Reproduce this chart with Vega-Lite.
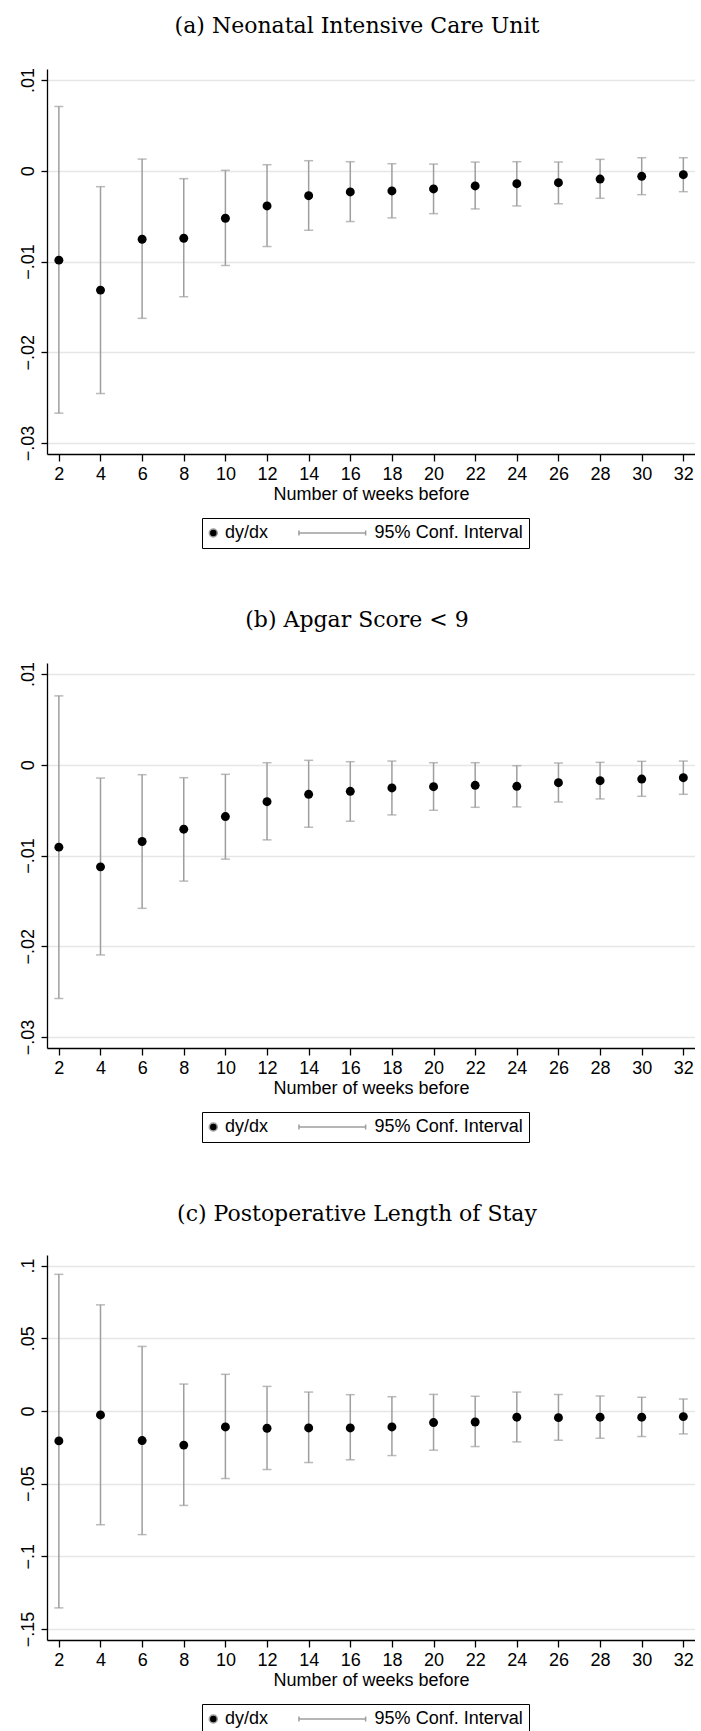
{
  "$schema": "https://vega.github.io/schema/vega-lite/v6.json",
  "background": "white",
  "padding": {"left": 18, "top": 15, "right": 0, "bottom": 0},
  "datasets": {
    "a": [
      {"week": 2, "est": -0.00985, "lo": -0.0267, "hi": 0.00707},
      {"week": 4, "est": -0.01315, "lo": -0.02454, "hi": -0.00176},
      {"week": 6, "est": -0.00755, "lo": -0.01626, "hi": 0.00128},
      {"week": 8, "est": -0.00744, "lo": -0.01388, "hi": -0.00088},
      {"week": 10, "est": -0.00524, "lo": -0.01044, "hi": 0.00004},
      {"week": 12, "est": -0.00388, "lo": -0.00835, "hi": 0.00066},
      {"week": 14, "est": -0.00275, "lo": -0.00656, "hi": 0.0011},
      {"week": 16, "est": -0.00234, "lo": -0.0056, "hi": 0.00099},
      {"week": 18, "est": -0.00223, "lo": -0.0052, "hi": 0.00077},
      {"week": 20, "est": -0.00201, "lo": -0.00473, "hi": 0.00073},
      {"week": 22, "est": -0.00168, "lo": -0.00421, "hi": 0.00095},
      {"week": 24, "est": -0.00143, "lo": -0.00388, "hi": 0.00099},
      {"week": 26, "est": -0.00132, "lo": -0.00363, "hi": 0.00095},
      {"week": 28, "est": -0.00092, "lo": -0.00304, "hi": 0.00125},
      {"week": 30, "est": -0.00062, "lo": -0.00264, "hi": 0.00143},
      {"week": 32, "est": -0.00044, "lo": -0.00231, "hi": 0.00143}
    ],
    "b": [
      {"week": 2, "est": -0.00908, "lo": -0.02575, "hi": 0.00758},
      {"week": 4, "est": -0.01125, "lo": -0.02095, "hi": -0.00147},
      {"week": 6, "est": -0.00846, "lo": -0.01582, "hi": -0.0011},
      {"week": 8, "est": -0.0071, "lo": -0.01282, "hi": -0.00143},
      {"week": 10, "est": -0.00571, "lo": -0.0104, "hi": -0.00106},
      {"week": 12, "est": -0.00407, "lo": -0.00828, "hi": 0.00022},
      {"week": 14, "est": -0.00326, "lo": -0.00689, "hi": 0.00048},
      {"week": 16, "est": -0.00293, "lo": -0.00623, "hi": 0.00033},
      {"week": 18, "est": -0.00256, "lo": -0.00553, "hi": 0.0004},
      {"week": 20, "est": -0.00242, "lo": -0.00502, "hi": 0.00022},
      {"week": 22, "est": -0.00227, "lo": -0.00469, "hi": 0.00022},
      {"week": 24, "est": -0.00238, "lo": -0.00465, "hi": -0.00011},
      {"week": 26, "est": -0.00198, "lo": -0.0041, "hi": 0.00018},
      {"week": 28, "est": -0.00176, "lo": -0.00377, "hi": 0.00026},
      {"week": 30, "est": -0.00158, "lo": -0.00348, "hi": 0.00037},
      {"week": 32, "est": -0.00143, "lo": -0.00326, "hi": 0.0004}
    ],
    "c": [
      {"week": 2, "est": -0.0206, "lo": -0.1355, "hi": 0.094},
      {"week": 4, "est": -0.00275, "lo": -0.0783, "hi": 0.073},
      {"week": 6, "est": -0.0204, "lo": -0.0851, "hi": 0.0444},
      {"week": 8, "est": -0.0235, "lo": -0.065, "hi": 0.0185},
      {"week": 10, "est": -0.011, "lo": -0.0465, "hi": 0.0252},
      {"week": 12, "est": -0.0119, "lo": -0.0403, "hi": 0.0169},
      {"week": 14, "est": -0.0117, "lo": -0.0355, "hi": 0.013},
      {"week": 16, "est": -0.0117, "lo": -0.0336, "hi": 0.0112},
      {"week": 18, "est": -0.011, "lo": -0.0307, "hi": 0.0098},
      {"week": 20, "est": -0.008, "lo": -0.027, "hi": 0.0114},
      {"week": 22, "est": -0.0076, "lo": -0.0245, "hi": 0.0101},
      {"week": 24, "est": -0.0043, "lo": -0.0213, "hi": 0.013},
      {"week": 26, "est": -0.0046, "lo": -0.0201, "hi": 0.0114},
      {"week": 28, "est": -0.0043, "lo": -0.0188, "hi": 0.0103},
      {"week": 30, "est": -0.0043, "lo": -0.0176, "hi": 0.0094},
      {"week": 32, "est": -0.0039, "lo": -0.0158, "hi": 0.0082}
    ]
  },
  "config": {
    "view": {"stroke": null},
    "font": "Liberation Sans",
    "axis": {
      "labelFont": "Liberation Sans", "labelFontSize": 18, "labelColor": "black",
      "titleFont": "Liberation Sans", "titleFontSize": 18, "titleFontWeight": "normal", "titleColor": "black",
      "domainColor": "black", "domainWidth": 1.3, "tickColor": "black", "tickWidth": 1.3
    },
    "axisX": {"grid": false, "tickSize": 7, "labelPadding": 4, "titlePadding": 2, "labelFlush": false, "labelOverlap": false},
    "axisY": {"grid": true, "gridColor": "#e6e6e6", "gridWidth": 1.6, "tickSize": 6, "labelAngle": -90, "labelAlign": "center", "labelBaseline": "bottom", "labelPadding": 4, "minExtent": 28, "maxExtent": 28, "labelFlush": false, "labelOverlap": false},
    "title": {"font": "DejaVu Serif", "fontSize": 22, "fontWeight": "normal", "color": "black", "anchor": "middle", "dx": -14, "offset": 29},
    "legend": {
      "orient": "none", "legendX": 155, "legendY": 449, "direction": "horizontal", "title": null,
      "strokeColor": "black", "fillColor": "white", "padding": 6,
      "labelFont": "Liberation Sans", "labelFontSize": 18, "labelColor": "black",
      "labelOffset": 2.7, "symbolOffset": -3.7, "columnPadding": 26.6,
      "symbolSize": 256, "symbolStrokeWidth": 1.5, "symbolOpacity": 1
    }
  },
  "spacing": 60,
  "resolve": {"scale": {"x": "independent", "y": "independent", "shape": "independent"}, "legend": {"shape": "independent"}},
  "vconcat": [
    {
      "title": "(a) Neonatal Intensive Care Unit",
      "width": 648, "height": 385,
      "data": {"name": "a"},
      "encoding": {
        "x": {"field": "week", "type": "quantitative", "title": "Number of weeks before",
              "scale": {"domain": [1.43, 32.56], "nice": false, "zero": false},
              "axis": {"values": [2,4,6,8,10,12,14,16,18,20,22,24,26,28,30,32]}}
      },
      "layer": [
        {"mark": {"type": "rule", "color": "#9e9e9e", "strokeWidth": 1.5},
         "encoding": {
           "y": {"field": "lo", "type": "quantitative", "title": null,
                 "scale": {"domain": [-0.0312, 0.0112], "nice": false, "zero": false},
                 "axis": {"values": [-0.03,-0.02,-0.01,0,0.01], "labelExpr": "replace(replace(format(datum.value, '.2~f'), '0.', '.'), '-', '\u2212')"}},
           "y2": {"field": "hi"}}},
        {"mark": {"type": "tick", "orient": "horizontal", "color": "#9e9e9e", "size": 9, "thickness": 1.5},
         "encoding": {"y": {"field": "lo", "type": "quantitative", "title": null}}},
        {"mark": {"type": "tick", "orient": "horizontal", "color": "#9e9e9e", "size": 9, "thickness": 1.5},
         "encoding": {"y": {"field": "hi", "type": "quantitative", "title": null}}},
        {"mark": {"type": "point", "filled": true, "size": 80, "opacity": 1, "color": "black"},
         "encoding": {"y": {"field": "est", "type": "quantitative", "title": null}}},
        {"data": {"values": []},
         "mark": {"type": "point", "filled": false, "fill": "black", "stroke": "#9e9e9e", "strokeWidth": 1.5, "opacity": 1},
         "encoding": {
           "y": {"field": "est", "type": "quantitative", "title": null},
           "shape": {"datum": "dy/dx", "type": "nominal",
                     "scale": {"domain": ["dy/dx", "95% Conf. Interval"],
                               "range": ["M-0.5,0A0.5,0.5,0,1,0,0.5,0A0.5,0.5,0,1,0,-0.5,0Z", "M-7.994,-0.3125L-7.994,0.3125M-7.994,0L0.344,0M0.344,-0.3125L0.344,0.3125"]}}}}
      ]
    },
    {
      "title": "(b) Apgar Score < 9",
      "width": 648, "height": 385,
      "data": {"name": "b"},
      "encoding": {
        "x": {"field": "week", "type": "quantitative", "title": "Number of weeks before",
              "scale": {"domain": [1.43, 32.56], "nice": false, "zero": false},
              "axis": {"values": [2,4,6,8,10,12,14,16,18,20,22,24,26,28,30,32]}}
      },
      "layer": [
        {"mark": {"type": "rule", "color": "#9e9e9e", "strokeWidth": 1.5},
         "encoding": {
           "y": {"field": "lo", "type": "quantitative", "title": null,
                 "scale": {"domain": [-0.0312, 0.0112], "nice": false, "zero": false},
                 "axis": {"values": [-0.03,-0.02,-0.01,0,0.01], "labelExpr": "replace(replace(format(datum.value, '.2~f'), '0.', '.'), '-', '\u2212')"}},
           "y2": {"field": "hi"}}},
        {"mark": {"type": "tick", "orient": "horizontal", "color": "#9e9e9e", "size": 9, "thickness": 1.5},
         "encoding": {"y": {"field": "lo", "type": "quantitative", "title": null}}},
        {"mark": {"type": "tick", "orient": "horizontal", "color": "#9e9e9e", "size": 9, "thickness": 1.5},
         "encoding": {"y": {"field": "hi", "type": "quantitative", "title": null}}},
        {"mark": {"type": "point", "filled": true, "size": 80, "opacity": 1, "color": "black"},
         "encoding": {"y": {"field": "est", "type": "quantitative", "title": null}}},
        {"data": {"values": []},
         "mark": {"type": "point", "filled": false, "fill": "black", "stroke": "#9e9e9e", "strokeWidth": 1.5, "opacity": 1},
         "encoding": {
           "y": {"field": "est", "type": "quantitative", "title": null},
           "shape": {"datum": "dy/dx", "type": "nominal",
                     "scale": {"domain": ["dy/dx", "95% Conf. Interval"],
                               "range": ["M-0.5,0A0.5,0.5,0,1,0,0.5,0A0.5,0.5,0,1,0,-0.5,0Z", "M-7.994,-0.3125L-7.994,0.3125M-7.994,0L0.344,0M0.344,-0.3125L0.344,0.3125"]}}}}
      ]
    },
    {
      "title": "(c) Postoperative Length of Stay",
      "width": 648, "height": 385,
      "data": {"name": "c"},
      "encoding": {
        "x": {"field": "week", "type": "quantitative", "title": "Number of weeks before",
              "scale": {"domain": [1.43, 32.56], "nice": false, "zero": false},
              "axis": {"values": [2,4,6,8,10,12,14,16,18,20,22,24,26,28,30,32]}}
      },
      "layer": [
        {"mark": {"type": "rule", "color": "#9e9e9e", "strokeWidth": 1.5},
         "encoding": {
           "y": {"field": "lo", "type": "quantitative", "title": null,
                 "scale": {"domain": [-0.1576, 0.1073], "nice": false, "zero": false},
                 "axis": {"values": [-0.15,-0.1,-0.05,0,0.05,0.1], "labelExpr": "replace(replace(format(datum.value, '.2~f'), '0.', '.'), '-', '\u2212')"}},
           "y2": {"field": "hi"}}},
        {"mark": {"type": "tick", "orient": "horizontal", "color": "#9e9e9e", "size": 9, "thickness": 1.5},
         "encoding": {"y": {"field": "lo", "type": "quantitative", "title": null}}},
        {"mark": {"type": "tick", "orient": "horizontal", "color": "#9e9e9e", "size": 9, "thickness": 1.5},
         "encoding": {"y": {"field": "hi", "type": "quantitative", "title": null}}},
        {"mark": {"type": "point", "filled": true, "size": 80, "opacity": 1, "color": "black"},
         "encoding": {"y": {"field": "est", "type": "quantitative", "title": null}}},
        {"data": {"values": []},
         "mark": {"type": "point", "filled": false, "fill": "black", "stroke": "#9e9e9e", "strokeWidth": 1.5, "opacity": 1},
         "encoding": {
           "y": {"field": "est", "type": "quantitative", "title": null},
           "shape": {"datum": "dy/dx", "type": "nominal",
                     "scale": {"domain": ["dy/dx", "95% Conf. Interval"],
                               "range": ["M-0.5,0A0.5,0.5,0,1,0,0.5,0A0.5,0.5,0,1,0,-0.5,0Z", "M-7.994,-0.3125L-7.994,0.3125M-7.994,0L0.344,0M0.344,-0.3125L0.344,0.3125"]}}}}
      ]
    }
  ]
}
